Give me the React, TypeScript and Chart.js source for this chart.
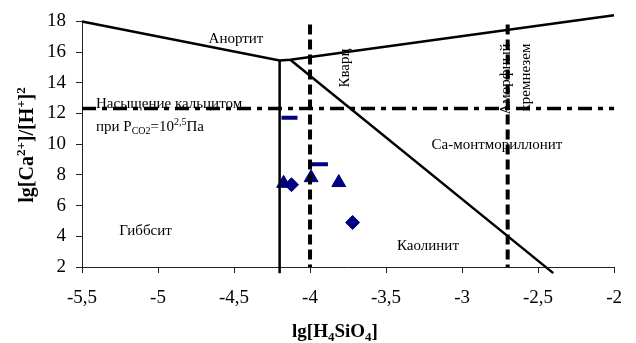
import React, { useEffect, useRef } from 'react';
import { Chart, registerables } from 'chart.js';

Chart.register(...registerables);

// Axis ranges and tick marks
const xMin = -5.5;
const xMax = -2;
const xStep = 0.5;
const yMin = 2;
const yMax = 18;
const yStep = 2;

// Stability field boundaries (lg[H4SiO4], lg[Ca2+]/[H+]^2)
const anorthiteX = [-5.5, -4.2, -4.13, -2];
const anorthiteY = [18, 15.45, 15.5, 18.4];
const gibbsiteX = [-4.2, -4.2];
const gibbsiteY = [15.45, 1.6];
const kaoliniteX = [-4.13, -2.4];
const kaoliniteY = [15.5, 1.6];

// Saturation limits
const quartzX = [-4, -4];
const quartzY = [17.8, 2];
const amorphousX = [-2.7, -2.7];
const amorphousY = [17.8, 2];
const calciteX = [-5.5, -2];
const calciteY = [12.33, 12.33];

// Water samples
const dashX = [-4.135, -3.935];
const dashY = [11.72, 8.69];
const triangleX = [-4.174, -3.993, -3.811];
const triangleY = [7.45, 7.82, 7.5];
const diamondX = [-4.122, -3.72];
const diamondY = [7.36, 4.9];

const NAVY = '#000080';
const SERIF = "'Liberation Serif', 'Times New Roman', serif";

type Run = { t: string; k?: 'sub' | 'sup' };

const pts = (xs: number[], ys: number[]) => xs.map((x, i) => ({ x, y: ys[i] }));

function drawRich(
  ctx: CanvasRenderingContext2D,
  runs: Run[],
  x: number,
  y: number,
  size: number,
  bold: boolean,
  align: 'left' | 'center',
  rot = 0
) {
  const w = bold ? 'bold ' : '';
  const fontFor = (r: Run) => `${w}${r.k ? Math.round(size * 0.66) : size}px ${SERIF}`;
  let total = 0;
  const widths = runs.map((r) => {
    ctx.font = fontFor(r);
    const m = ctx.measureText(r.t).width;
    total += m;
    return m;
  });
  ctx.save();
  ctx.translate(x, y);
  ctx.rotate(rot);
  ctx.fillStyle = '#000';
  ctx.textBaseline = 'alphabetic';
  ctx.textAlign = 'left';
  let cx = align === 'center' ? -total / 2 : 0;
  runs.forEach((r, i) => {
    ctx.font = fontFor(r);
    const dy = r.k === 'sub' ? size * 0.22 : r.k === 'sup' ? -size * 0.38 : 0;
    ctx.fillText(r.t, cx, dy);
    cx += widths[i];
  });
  ctx.restore();
}

const textPlugin = {
  id: 'fieldLabels',
  afterDraw(chart: any) {
    const ctx: CanvasRenderingContext2D = chart.ctx;
    const up = -Math.PI / 2;
    drawRich(ctx, [{ t: 'Анортит' }], 236, 42.5, 15, false, 'center');
    drawRich(ctx, [{ t: 'Насыщение кальцитом' }], 96, 108, 15, false, 'left');
    drawRich(
      ctx,
      [{ t: 'при P' }, { t: 'CO2', k: 'sub' }, { t: '=10' }, { t: '2,5', k: 'sup' }, { t: 'Па' }],
      96,
      131,
      15,
      false,
      'left'
    );
    drawRich(ctx, [{ t: 'Са-монтмориллонит' }], 497, 149, 15, false, 'center');
    drawRich(ctx, [{ t: 'Гиббсит' }], 145.5, 235, 15, false, 'center');
    drawRich(ctx, [{ t: 'Каолинит' }], 428, 250, 15, false, 'center');
    drawRich(ctx, [{ t: 'Кварц' }], 349, 68, 15, false, 'center', up);
    drawRich(ctx, [{ t: 'Аморфный' }], 510, 79, 15, false, 'center', up);
    drawRich(ctx, [{ t: 'кремнезем' }], 530, 77.5, 15, false, 'center', up);

    // axis titles
    drawRich(
      ctx,
      [{ t: 'lg[H' }, { t: '4', k: 'sub' }, { t: 'SiO' }, { t: '4', k: 'sub' }, { t: ']' }],
      335,
      337,
      19,
      true,
      'center'
    );
    drawRich(
      ctx,
      [{ t: 'lg[Ca' }, { t: '2+', k: 'sup' }, { t: ']/[H' }, { t: '+', k: 'sup' }, { t: ']' }, { t: '2', k: 'sup' }],
      33,
      145,
      20,
      true,
      'center',
      up
    );
  },
};

const boundary = (xs: number[], ys: number[], width: number, dash: number[] = []) => ({
  type: 'scatter' as const,
  data: pts(xs, ys),
  showLine: true,
  borderColor: '#000',
  borderWidth: width,
  borderDash: dash,
  pointRadius: 0,
  pointHoverRadius: 0,
  fill: false,
  clip: false as const,
});

export default function App() {
  const ref = useRef<HTMLCanvasElement>(null);

  useEffect(() => {
    if (!ref.current) return;
    const chart = new Chart(ref.current, {
      type: 'scatter',
      data: {
        datasets: [
          boundary(calciteX, calciteY, 3.5, [14, 6, 5, 6]),
          boundary(quartzX, quartzY, 4, [10, 5]),
          boundary(amorphousX, amorphousY, 4, [10, 5]),
          boundary(anorthiteX, anorthiteY, 2.5),
          boundary(gibbsiteX, gibbsiteY, 2.5),
          boundary(kaoliniteX, kaoliniteY, 2.5),
          {
            data: pts(dashX, dashY),
            pointStyle: 'line',
            pointRadius: 8,
            borderWidth: 4,
            borderColor: NAVY,
            backgroundColor: NAVY,
          },
          {
            data: pts(triangleX, triangleY),
            pointStyle: 'triangle',
            pointRadius: 8,
            borderWidth: 1,
            borderColor: NAVY,
            backgroundColor: NAVY,
          },
          {
            data: pts(diamondX, diamondY),
            pointStyle: 'rectRot',
            pointRadius: 7,
            borderWidth: 1,
            borderColor: NAVY,
            backgroundColor: NAVY,
          },
        ] as any,
      },
      options: {
        responsive: false,
        animation: false,
        devicePixelRatio: 1,
        layout: { padding: { top: 21, right: 8, left: 0, bottom: 0 }, autoPadding: false },
        plugins: { legend: { display: false }, tooltip: { enabled: false } },
        scales: {
          x: {
            type: 'linear',
            min: xMin,
            max: xMax,
            ticks: {
              stepSize: xStep,
              color: '#000',
              font: { family: SERIF, size: 19 },
              padding: 14,
              maxRotation: 0,
              callback: (v: any) => String(v).replace('.', ','),
            },
            grid: { drawOnChartArea: false, drawTicks: true, tickLength: 6, color: '#222' },
            border: { color: '#222', width: 1 },
            afterFit: (s: any) => {
              s.height = 76;
            },
          },
          y: {
            type: 'linear',
            min: yMin,
            max: yMax,
            ticks: {
              stepSize: yStep,
              color: '#000',
              font: { family: SERIF, size: 19 },
              padding: 10,
            },
            grid: { drawOnChartArea: false, drawTicks: true, tickLength: 6, color: '#222' },
            border: { color: '#222', width: 1 },
            afterFit: (s: any) => {
              s.width = 82;
            },
          },
        },
      },
      plugins: [textPlugin],
    });
    return () => chart.destroy();
  }, []);

  return (
    <canvas
      ref={ref}
      width={636}
      height={343}
      style={{ position: 'fixed', left: 0, top: 0, width: 636, height: 343, display: 'block', background: '#fff' }}
    />
  );
}
